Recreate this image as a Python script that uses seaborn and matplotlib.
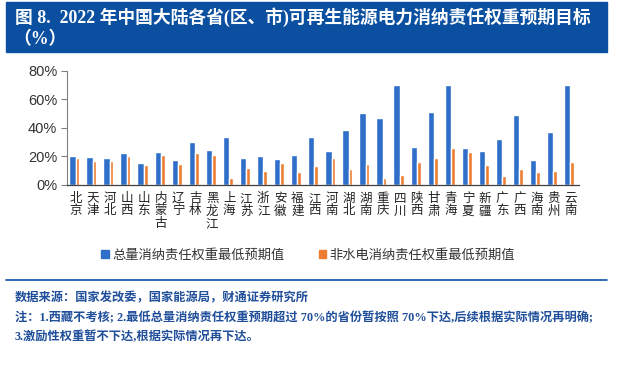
import numpy as np
import pandas as pd
import matplotlib
matplotlib.use("Agg")
import matplotlib.pyplot as plt
import seaborn as sns
from matplotlib.lines import Line2D
from matplotlib.patches import Rectangle

# data (percent)
provinces = ["北京", "天津", "河北", "山西", "山东", "内蒙古", "辽宁", "吉林", "黑龙江", "上海",
             "江苏", "浙江", "安徽", "福建", "江西", "河南", "湖北", "湖南", "重庆", "四川",
             "陕西", "甘肃", "青海", "宁夏", "新疆", "广东", "广西", "海南", "贵州", "云南"]
total_min = [20.0, 19.4, 18.7, 22.2, 15.4, 22.9, 17.7, 30.1, 24.3, 33.4,
             18.7, 20.5, 18.2, 21.0, 33.4, 23.6, 38.2, 50.6, 46.6, 70.0,
             26.8, 50.8, 70.0, 26.1, 23.8, 32.0, 48.7, 17.3, 36.9, 70.0]
nonhydro_min = [18.7, 17.0, 17.0, 20.3, 13.8, 20.8, 14.7, 22.2, 21.0, 4.9,
                11.7, 9.8, 15.4, 8.9, 13.3, 19.1, 11.2, 14.7, 5.1, 7.2,
                16.1, 19.1, 25.7, 23.1, 13.8, 6.1, 11.2, 9.1, 9.6, 16.1]
series_names = ["总量消纳责任权重最低预期值", "非水电消纳责任权重最低预期值"]
colors = ["#2F6FC9", "#ED7D31"]

df = pd.DataFrame({
    "省份": provinces * 2,
    "值": total_min + nonhydro_min,
    "类型": [series_names[0]] * len(provinces) + [series_names[1]] * len(provinces),
})

sns.set_style("white")
plt.rcParams["font.family"] = ["Liberation Sans", "Noto Sans CJK SC", "DejaVu Sans"]
cjk = ["Noto Sans CJK SC", "DejaVu Sans"]
mixed = ["Liberation Serif", "Noto Sans CJK SC", "DejaVu Sans"]

fig = plt.figure(figsize=(6.4, 3.74), dpi=100)
ax = fig.add_axes([67 / 640, 1 - 185 / 374, 512 / 640, 114.3 / 374])

sns.barplot(data=df, x="省份", y="值", hue="类型", hue_order=series_names,
            palette=colors, order=provinces, width=0.6, ax=ax, legend=False,
            saturation=1)

# narrow the bars the way the original has them
for bar in ax.containers[0]:
    c = round(bar.get_x() + bar.get_width() / 2)
    bar.set_x(c - 0.37)
    bar.set_width(0.37)
for bar in ax.containers[1]:
    c = round(bar.get_x() + bar.get_width() / 2)
    bar.set_x(c)
    bar.set_width(0.22)

ax.set_xlim(-0.5, len(provinces) - 0.5)
ax.set_ylim(0, 80)
ax.set_yticks([0, 20, 40, 60, 80])
ax.set_yticklabels([f"{v}%" for v in [0, 20, 40, 60, 80]], fontsize=10.5, color="#333333")
ax.set_xticks(range(len(provinces)))
ax.set_xticklabels(["\n".join(p) for p in provinces], family=cjk, fontsize=9,
                   linespacing=0.95, color="#222222", va="top")
ax.set_xticks(np.arange(-0.5, len(provinces), 1), minor=True)
ax.tick_params(axis="x", which="major", length=0, pad=5)
ax.tick_params(axis="x", which="minor", length=4, color="#404040", width=0.8)
ax.tick_params(axis="y", length=4, color="#808080", width=0.8, pad=3, left=True)
ax.set_xlabel("")
ax.set_ylabel("")
for s in ["top", "right"]:
    ax.spines[s].set_visible(False)
ax.spines["left"].set_color("#808080")
ax.spines["bottom"].set_color("#404040")
ax.spines["left"].set_linewidth(0.8)
ax.spines["bottom"].set_linewidth(0.9)

# legend
handles = [Rectangle((0, 0), 1, 1, color=c) for c in colors]
fig.legend(handles, series_names, loc="center", bbox_to_anchor=(308 / 640, 1 - 255 / 374),
           ncol=2, frameon=False, handlelength=0.6, handleheight=0.6, handletextpad=0.2,
           columnspacing=2.6, prop={"family": cjk, "size": 9.5}, labelcolor="#333333")

# title banner
fig.patches.append(Rectangle((6 / 640, 1 - 52 / 374), 601 / 640, 50 / 374,
                             transform=fig.transFigure, color="#0A4FA0", zorder=0))
fig.text(15 / 640, 1 - 17 / 374, "图 8.  2022 年中国大陆各省(区、市)可再生能源电力消纳责任权重预期目标",
         family=mixed, fontsize=12.8, weight="bold", color="white", va="center")
fig.text(13 / 640, 1 - 40 / 374, "（%）", family=mixed, fontsize=12.8, weight="bold",
         color="white", va="center")

# separator line and notes
fig.add_artist(Line2D([6 / 640, 607 / 640], [1 - 280 / 374] * 2, color="#0A4FA0", lw=1.2))
note_color = "#1F4E9A"
fig.text(15 / 640, 1 - 298 / 374, "数据来源：国家发改委，国家能源局，财通证券研究所",
         family=mixed, fontsize=8.8, weight="bold", color=note_color, va="center")
fig.text(15 / 640, 1 - 318 / 374,
         "注：1.西藏不考核; 2.最低总量消纳责任权重预期超过 70%的省份暂按照 70%下达,后续根据实际情况再明确;",
         family=mixed, fontsize=8.8, weight="bold", color=note_color, va="center")
fig.text(15 / 640, 1 - 337 / 374, "3.激励性权重暂不下达,根据实际情况再下达。",
         family=mixed, fontsize=8.8, weight="bold", color=note_color, va="center")

fig.savefig("out.png", dpi=100)
